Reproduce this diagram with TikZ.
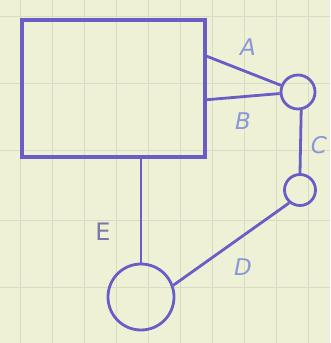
\documentclass[tikz,border=0pt]{standalone}
\usepackage{fontspec}
\setsansfont{DejaVu Sans}
\usetikzlibrary{calc}
\begin{document}
\begin{tikzpicture}[x=1pt,y=-1pt,
  ink/.style={draw=inkc, line width=2.8pt},
  lbl/.style={text=lblc, font=\fontsize{23}{23}\sffamily\itshape, inner sep=0pt},
  ring/.style={ink, circle, inner sep=0pt, minimum size=#1}]
\definecolor{paper}{HTML}{EEF1D6}
\definecolor{gridc}{HTML}{D9DCC2}
\definecolor{inkc}{HTML}{6A5DC6}
\definecolor{lblc}{HTML}{8A97D8}
\definecolor{lble}{HTML}{7A76A8}
\fill[paper] (0,0) rectangle (330,343);
\useasboundingbox (0,0) rectangle (330,343);
\foreach \x in {20,52,84,116,148,180,212,244,276,308}
  \draw[gridc, line width=0.8pt] (\x,0) -- (\x,343);
\foreach \y in {16,83,150,220,287}
  \draw[gridc, line width=0.8pt] (0,\y) -- (330,\y);
\node[ink, line width=3.4pt, minimum width=183pt, minimum height=137pt, inner sep=0pt] (rect) at (113.5,88.5) {};
\node[ring=34pt] (c1) at (298,92) {};
\node[ring=31pt] (c2) at (300,190) {};
\node[ring=66pt] (big) at (141,297) {};
\coordinate (pa) at ($(rect.north east)!0.27!(rect.south east)$);
\coordinate (pb) at ($(rect.north east)!0.58!(rect.south east)$);
\draw[ink] (pa) -- (c1);
\draw[ink] (pb) -- (c1);
\draw[ink] (c1.-80) -- (c2.north);
\draw[ink] (big.20) -- (c2.230);
\draw[ink] (big.north |- rect.south) -- (big.north);
\node[lbl] (la) at (248,47) {A};
\node[lbl] (lb) at (243,121) {B};
\node[lbl] (lc) at (319,145) {C};
\node[lbl] (ld) at (243,267) {D};
\node[lbl, text=lble, font=\fontsize{24}{24}\sffamily] (le) at (103,232) {E};
\end{tikzpicture}
\end{document}
